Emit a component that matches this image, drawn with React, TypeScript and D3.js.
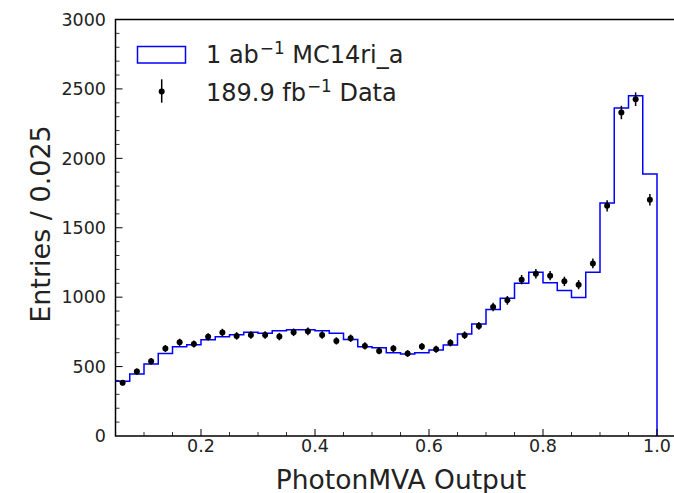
import React from "react";
import * as d3 from "d3";

const binCenters = [
  0.0625, 0.0875, 0.1125, 0.1375, 0.1625, 0.1875, 0.2125, 0.2375, 0.2625, 0.2875,
  0.3125, 0.3375, 0.3625, 0.3875, 0.4125, 0.4375, 0.4625, 0.4875, 0.5125, 0.5375,
  0.5625, 0.5875, 0.6125, 0.6375, 0.6625, 0.6875, 0.7125, 0.7375, 0.7625, 0.7875,
  0.8125, 0.8375, 0.8625, 0.8875, 0.9125, 0.9375, 0.9625, 0.9875,
];
const binWidth = 0.025;

const mcCounts = [
  395, 446, 518, 595, 643, 657, 693, 714, 729, 748,
  741, 758, 765, 765, 758, 741, 695, 643, 636, 599,
  590, 599, 619, 655, 734, 806, 911, 993, 1101, 1180,
  1103, 1048, 998, 1180, 1678, 2362, 2451, 1887,
];

const dataCounts = [
  383, 465, 539, 630, 675, 663, 714, 745, 721, 728,
  728, 716, 747, 754, 728, 685, 704, 649, 613, 630,
  594, 644, 625, 671, 726, 793, 929, 977, 1126, 1169,
  1155, 1114, 1090, 1243, 1658, 2330, 2426, 1701,
];

const yTicks = [0, 500, 1000, 1500, 2000, 2500, 3000];
const xTicks = [0.2, 0.4, 0.6, 0.8, 1.0];

const W = 674;
const H = 493;
const FONT = "DejaVu Sans";

export default function App() {
  const left = 115.5;
  const top = 19.5;
  const bottom = 436;
  const x = d3.scaleLinear().domain([0.05, 1.05]).range([left, left + 570]);
  const y = d3.scaleLinear().domain([0, 3000]).range([bottom, top]);
  const right = W + 5;

  // histogram step path (left edge lies on the axis frame)
  const pts: [number, number][] = [];
  binCenters.forEach((c, i) => {
    pts.push([x(c - binWidth / 2), y(mcCounts[i])]);
    pts.push([x(c + binWidth / 2), y(mcCounts[i])]);
  });
  const xLast = binCenters[binCenters.length - 1] + binWidth / 2;
  pts.push([x(xLast), y(0)]);
  const histPath = d3.line()(pts) || "";

  const minorX = d3.range(0.1, 1.0001, 0.05).filter(
    (v) => !xTicks.some((t) => Math.abs(t - v) < 1e-6)
  );
  const minorY = d3.range(100, 3000, 100).filter((v) => v % 500 !== 0);

  return (
    <div style={{ position: "fixed", left: 0, top: 0, width: W, height: H }}>
      <svg width={W} height={H} style={{ display: "block", background: "#fff" }} fontFamily={FONT}>
        <rect x={0} y={0} width={W} height={H} fill="#fff" />
        {/* histogram */}
        <path d={histPath} fill="none" stroke="#0000ff" strokeWidth={1.5} strokeLinejoin="miter" />
        {/* data points */}
        {binCenters.map((c, i) => {
          const v = dataCounts[i];
          const e = Math.sqrt(v);
          return (
            <g key={i}>
              <line x1={x(c)} x2={x(c)} y1={y(v - e)} y2={y(v + e)} stroke="#000" strokeWidth={1.5} />
              <circle cx={x(c)} cy={y(v)} r={3} fill="#000" />
            </g>
          );
        })}
        {/* frame */}
        <path
          d={`M${right},${top}H${left}V${bottom}H${right}`}
          fill="none"
          stroke="#000"
          strokeWidth={1.5}
        />
        {/* y ticks */}
        {yTicks.map((t) => (
          <g key={"y" + t}>
            {t > 0 && t < 3000 && (
              <line x1={left} x2={left + 7} y1={y(t)} y2={y(t)} stroke="#000" strokeWidth={1} />
            )}
            <text x={106} y={y(t)} dy="0.36em" textAnchor="end" fontSize={17.5} fill="#222">
              {t}
            </text>
          </g>
        ))}
        {minorY.map((t) => (
          <line key={"my" + t} x1={left} x2={left + 4} y1={y(t)} y2={y(t)} stroke="#000" strokeWidth={0.8} />
        ))}
        {/* x ticks */}
        {xTicks.map((t) => (
          <g key={"x" + t}>
            <line x1={x(t)} x2={x(t)} y1={bottom} y2={bottom - 7} stroke="#000" strokeWidth={1} />
            <text x={x(t)} y={452} textAnchor="middle" fontSize={17.5} fill="#222">
              {t.toFixed(1)}
            </text>
          </g>
        ))}
        {minorX.map((t) => (
          <line key={"mx" + t} x1={x(t)} x2={x(t)} y1={bottom} y2={bottom - 4} stroke="#000" strokeWidth={0.8} />
        ))}
        {/* axis labels */}
        <text x={401} y={489} textAnchor="middle" fontSize={26.5} fill="#222">
          PhotonMVA Output
        </text>
        <text transform="translate(50,224) rotate(-90)" textAnchor="middle" fontSize={27} fill="#222">
          Entries / 0.025
        </text>
        {/* legend */}
        <rect x={137.5} y={46.5} width={48} height={16.5} fill="#fff" stroke="#0000ff" strokeWidth={1.5} />
        <text x={206} y={63.3} fontSize={24} fill="#222">
          1 ab
          <tspan dx={1} dy={-9} fontSize={16.8}>{"\u22121"}</tspan>
          <tspan dy={9}> MC14ri_a</tspan>
        </text>
        <line x1={161.7} x2={161.7} y1={79.3} y2={102.7} stroke="#000" strokeWidth={1.5} />
        <circle cx={161.7} cy={91.5} r={3} fill="#000" />
        <text x={206} y={100.5} fontSize={24} fill="#222">
          189.9 fb
          <tspan dx={1} dy={-9} fontSize={16.8}>{"\u22121"}</tspan>
          <tspan dy={9}> Data</tspan>
        </text>
      </svg>
    </div>
  );
}
